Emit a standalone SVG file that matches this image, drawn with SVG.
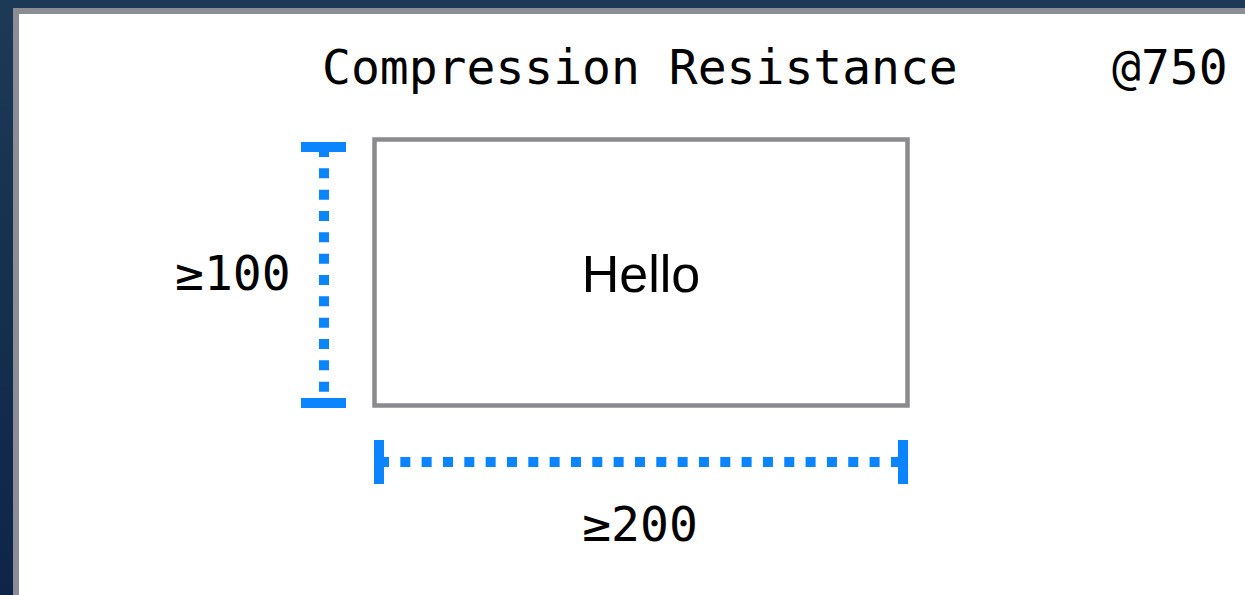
<svg xmlns="http://www.w3.org/2000/svg" width="1245" height="595" viewBox="0 0 1245 595">
  <defs>
    <linearGradient id="bg" x1="0" y1="0" x2="0" y2="1">
      <stop offset="0" stop-color="#1c3a56"/>
      <stop offset="1" stop-color="#0e2548"/>
    </linearGradient>
    <style>
      .mono { font-family: "DejaVu Sans Mono", "Liberation Mono", monospace; font-size: 48px; fill: #000; }
      .sans { font-family: "Liberation Sans", Arial, sans-serif; font-size: 52px; fill: #000; }
      .dim { stroke: #0a84ff; stroke-width: 10; stroke-dasharray: 10 11.33; fill: none; }
      .cap { fill: #0a84ff; }
      .box { fill: #fff; stroke: #8a8a8f; stroke-width: 4.5; }
    </style>
  </defs>

  <!-- backdrop and canvas frame -->
  <rect x="0" y="0" width="1245" height="595" fill="url(#bg)"/>
  <rect x="13" y="8" width="1232" height="587" fill="#8a8e94"/>
  <rect x="19" y="14" width="1226" height="581" fill="#ffffff"/>

  <!-- heading -->
  <g id="title">
    <text class="mono" x="322" y="84">Compression Resistance</text>
    <text class="mono" x="1112" y="84">@750</text>
  </g>

  <!-- the view -->
  <g id="hello-view">
    <rect class="box" x="374.5" y="139.5" width="533" height="266"/>
    <text class="sans" x="641" y="292" text-anchor="middle">Hello</text>
  </g>

  <!-- dimension guides -->
  <g id="connectors">
    <g id="height-guide">
      <line class="dim" x1="324" y1="147" x2="324" y2="403"/>
      <rect class="cap" x="301" y="142" width="45" height="10"/>
      <rect class="cap" x="301" y="398" width="45" height="10"/>
    </g>
    <g id="width-guide">
      <line class="dim" x1="379" y1="462" x2="903" y2="462"/>
      <rect class="cap" x="374" y="440" width="10" height="44"/>
      <rect class="cap" x="898" y="440" width="10" height="44"/>
    </g>
  </g>

  <g id="height-label">
    <text class="mono" x="175" y="290">≥100</text>
  </g>
  <g id="width-label">
    <text class="mono" x="640" y="541" text-anchor="middle">≥200</text>
  </g>
</svg>
